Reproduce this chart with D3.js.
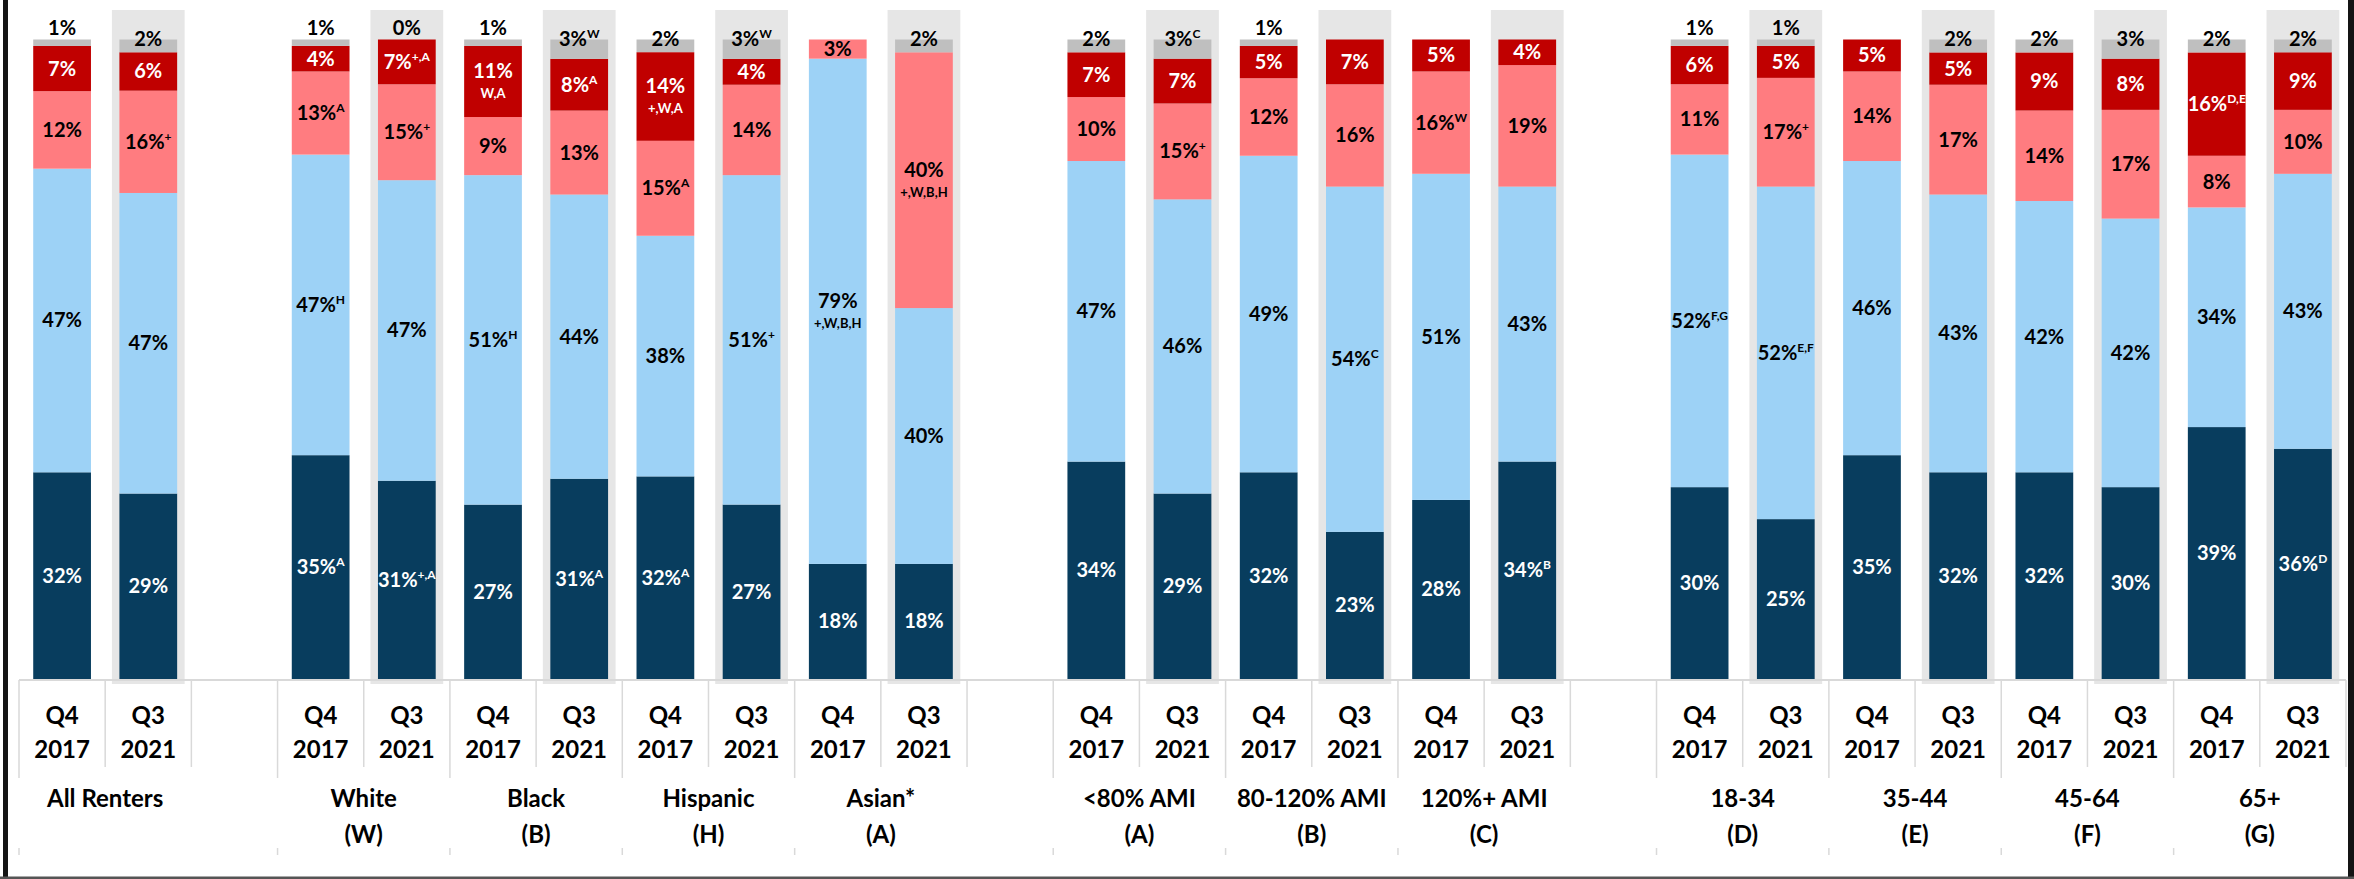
<!DOCTYPE html>
<html>
<head>
<meta charset="utf-8">
<script src="https://cdn.jsdelivr.net/npm/d3@7"></script>
<style>
  html, body { margin: 0; padding: 0; background: #ffffff; }
  svg { display: block; }
  text { font-family: Lato, "Open Sans", "DejaVu Sans", sans-serif; font-weight: 700; }
</style>
</head>
<body>
<svg id="chart" width="2354" height="879"></svg>
<script>
// ---- Categories ----
const groups = ["All Renters", "White", "Black", "Hispanic", "Asian*",
                "<80% AMI", "80-120% AMI", "120%+ AMI",
                "18-34", "35-44", "45-64", "65+"];
const groupCodes = ["", "(W)", "(B)", "(H)", "(A)", "(A)", "(B)", "(C)", "(D)", "(E)", "(F)", "(G)"];
const periods = ["Q4 2017", "Q3 2021"];
// an empty category follows each of these groups
const spacerAfter = ["All Renters", "Asian*", "120%+ AMI"];

// ---- Series values (percent), one entry per group x period ----
const seriesKeys = ["dark", "light", "pink", "red", "gray"];
const darkValues  = [32, 29, 35, 31, 27, 31, 32, 27, 18, 18, 34, 29, 32, 23, 28, 34, 30, 25, 35, 32, 32, 30, 39, 36];
const lightValues = [47, 47, 47, 47, 51, 44, 38, 51, 79, 40, 47, 46, 49, 54, 51, 43, 52, 52, 46, 43, 42, 42, 34, 43];
const pinkValues  = [12, 16, 13, 15,  9, 13, 15, 14,  3, 40, 10, 15, 12, 16, 16, 19, 11, 17, 14, 17, 14, 17,  8, 10];
const redValues   = [ 7,  6,  4,  7, 11,  8, 14,  4,  0,  0,  7,  7,  5,  7,  5,  4,  6,  5,  5,  5,  9,  8, 16,  9];
const grayValues  = [ 1,  2,  1,  0,  1,  3,  2,  3,  0,  2,  2,  3,  1,  0,  0,  0,  1,  1,  0,  2,  2,  3,  2,  2];

// ---- Significance notes: "" plain label, text = superscript, "\n..." = second line, null = no label ----
const darkNotes  = ["", "", "A", "+,A", "", "A", "A", "", "", "", "", "", "", "", "", "B", "", "", "", "", "", "", "", "D"];
const lightNotes = ["", "", "H", "", "H", "", "", "+", "\n+,W,B,H", "", "", "", "", "C", "", "", "F,G", "E,F", "", "", "", "", "", ""];
const pinkNotes  = ["", "+", "A", "+", "", "", "A", "", "", "\n+,W,B,H", "", "+", "", "", "W", "", "", "+", "", "", "", "", "", ""];
const redNotes   = ["", "", "", "+,A", "\nW,A", "A", "\n+,W,A", "", null, null, "", "", "", "", "", "", "", "", "", "", "", "", "D,E", ""];
const grayNotes  = ["", "", "", "", "", "W", "", "W", null, "", "", "C", "", null, null, null, "", "", null, "", "", "", "", ""];

const valuesBySeries = { dark: darkValues, light: lightValues, pink: pinkValues, red: redValues, gray: grayValues };
const notesBySeries  = { dark: darkNotes, light: lightNotes, pink: pinkNotes, red: redNotes, gray: grayNotes };
const colors = { dark: "#083d5e", light: "#9dd2f6", pink: "#ff7c80", red: "#c00000", gray: "#bfbfbf" };
const labelColors = { dark: "#ffffff", light: "#000000", pink: "#000000", red: "#ffffff", gray: "#000000" };

// ---- Table ----
const rows = [];
groups.forEach((g, gi) => periods.forEach((p, pi) => {
  const i = gi * 2 + pi;
  const row = { slot: g + "|" + p, group: g, period: p, index: i };
  seriesKeys.forEach(k => row[k] = valuesBySeries[k][i]);
  rows.push(row);
}));
const slots = [];
groups.forEach(g => {
  periods.forEach(p => slots.push(g + "|" + p));
  if (spacerAfter.includes(g)) slots.push(g + "|gap");
});

// ---- Layout ----
const svg = d3.select("#chart");
const baseY = 679;
const topY = 39.5;
const slotScale = d3.scaleBand().domain(slots).range([19, 2346]);
const x = slotScale.copy().paddingInner(0.33).paddingOuter(0.165);
const y = d3.scaleLinear().domain([0, 1]).range([baseY, topY]);
const bw = x.bandwidth();
const step = slotScale.step();

const stacked = d3.stack().keys(seriesKeys).offset(d3.stackOffsetExpand)(rows);

// shaded backdrop behind the later period
svg.append("g").selectAll("rect")
  .data(rows.filter(r => r.period === periods[1]))
  .join("rect")
  .attr("x", d => x(d.slot) - 7.5)
  .attr("width", bw + 15)
  .attr("y", 10)
  .attr("height", baseY + 5 - 10)
  .attr("fill", "#e6e6e6");

// axis line
svg.append("line")
  .attr("x1", slotScale.range()[0]).attr("x2", slotScale.range()[1])
  .attr("y1", baseY + 1).attr("y2", baseY + 1)
  .attr("stroke", "#d9d9d9").attr("stroke-width", 2);

// stacked bars
svg.append("g").selectAll("g")
  .data(stacked)
  .join("g")
  .attr("fill", s => colors[s.key])
  .selectAll("rect")
  .data(s => s.filter(d => d[1] - d[0] > 0))
  .join("rect")
  .attr("x", d => x(d.data.slot))
  .attr("width", bw)
  .attr("y", d => y(d[1]))
  .attr("height", d => y(d[0]) - y(d[1]));

// value labels
const labelLayer = svg.append("g");
stacked.forEach(s => {
  const key = s.key;
  s.forEach(d => {
    const i = d.data.index;
    const note = notesBySeries[key][i];
    if (note === null) return;
    const v = valuesBySeries[key][i];
    const cx = x(d.data.slot) + bw / 2;
    let cy;
    if (key === "gray") cy = y(d[1]) - (v < 2 ? 12 : 1);
    else cy = (y(d[0]) + y(d[1])) / 2;
    const t = labelLayer.append("text")
      .attr("x", cx)
      .attr("text-anchor", "middle")
      .attr("fill", labelColors[key])
      .attr("font-size", 20);
    if (note.startsWith("\n")) {
      t.attr("y", cy - 10 + 7).text(v + "%");
      labelLayer.append("text")
        .attr("x", cx).attr("y", cy + 12 + 5)
        .attr("text-anchor", "middle")
        .attr("fill", labelColors[key])
        .attr("font-size", 13)
        .text(note.slice(1));
    } else {
      t.attr("y", cy + 7);
      t.append("tspan").text(v + "%");
      if (note) {
        t.append("tspan").attr("font-size", 12).attr("dy", -8).text(note);
      }
    }
  });
});

// category dividers below the axis
const axisG = svg.append("g");
slots.forEach((s, i) => {
  const xb = slotScale(s);
  const groupStart = s.endsWith("|" + periods[0]);
  axisG.append("line")
    .attr("x1", xb).attr("x2", xb)
    .attr("y1", baseY + 1).attr("y2", groupStart ? 778 : 767)
    .attr("stroke", "#d9d9d9").attr("stroke-width", 1.5);
  if (groupStart) {
    axisG.append("line")
      .attr("x1", xb).attr("x2", xb)
      .attr("y1", 848).attr("y2", 855)
      .attr("stroke", "#d9d9d9").attr("stroke-width", 1.5);
  }
});
{
  const xe = slotScale.range()[1];
  axisG.append("line")
    .attr("x1", xe).attr("x2", xe)
    .attr("y1", baseY + 1).attr("y2", 767)
    .attr("stroke", "#d9d9d9").attr("stroke-width", 1.5);
}

// period tick labels
rows.forEach(r => {
  const [q, yr] = r.period.split(" ");
  const cx = x(r.slot) + bw / 2;
  const t = axisG.append("text")
    .attr("text-anchor", "middle").attr("font-size", 24).attr("fill", "#000");
  t.append("tspan").attr("x", cx).attr("y", 724).text(q);
  t.append("tspan").attr("x", cx).attr("y", 758).text(yr);
});

// group labels
groups.forEach((g, gi) => {
  const a = x(g + "|" + periods[0]);
  const b = x(g + "|" + periods[1]) + bw;
  const cx = (a + b) / 2;
  const t = axisG.append("text")
    .attr("text-anchor", "middle").attr("font-size", 24).attr("fill", "#000");
  t.append("tspan").attr("x", cx).attr("y", 807).text(g);
  if (groupCodes[gi]) t.append("tspan").attr("x", cx).attr("y", 843).text(groupCodes[gi]);
});

// frame
svg.append("rect").attr("x", 3).attr("y", 0).attr("width", 5).attr("height", 879).attr("fill", "#141414");
svg.append("rect").attr("x", 2348).attr("y", 0).attr("width", 6).attr("height", 879).attr("fill", "#141414");
svg.append("rect").attr("x", 0).attr("y", 876.5).attr("width", 2354).attr("height", 2.5).attr("fill", "#555555");
</script>
</body>
</html>
